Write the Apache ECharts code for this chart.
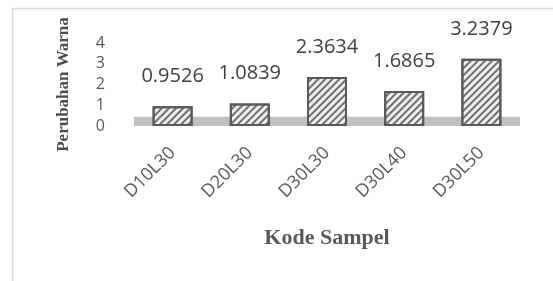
<!DOCTYPE html>
<html>
<head>
<meta charset="utf-8">
<script src="https://cdn.jsdelivr.net/npm/echarts@6/dist/echarts.min.js"></script>
<style>
  html, body { margin: 0; padding: 0; background: #fff; }
</style>
</head>
<body>
<div id="main" style="width:553px;height:281px"></div>
<script>
// sample codes and colour change values
var categories = ["D10L30", "D20L30", "D30L30", "D30L40", "D30L50"];
var perubahanWarna = [0.9526, 1.0839, 2.3634, 1.6865, 3.2379];
var yTicks = [0, 1, 2, 3, 4];

var chartDom = document.getElementById("main");
var myChart = echarts.init(chartDom);
var option;
option = {
  animation: false,
  aria: { enabled: true, decal: { show: true } },
  graphic: [
    {
      type: "rect",
      z: -10,
      shape: { x: 12.5, y: 8.5, width: 700, height: 400 },
      style: { fill: "none", stroke: "#d9d9d9", lineWidth: 1.5 }
    }
  ],
  grid: {
    left: 134,
    right: 33,
    top: 43,
    bottom: 155
  },
  xAxis: {
    type: "category",
    data: categories,
    name: "Kode Sampel",
    nameLocation: "middle",
    nameGap: 101,
    nameTextStyle: {
      fontFamily: "Liberation Serif",
      fontWeight: "bold",
      fontSize: 22,
      color: "#595959"
    },
    axisLine: { show: false },
    axisTick: { show: false },
    axisLabel: {
      rotate: 45,
      margin: 24,
      fontFamily: "Open Sans",
      fontSize: 18,
      color: "#595959"
    }
  },
  yAxis: {
    type: "value",
    min: yTicks[0],
    max: yTicks[yTicks.length - 1],
    interval: 1,
    name: "Perubahan Warna",
    nameLocation: "middle",
    nameGap: 62,
    nameTextStyle: {
      fontFamily: "Liberation Serif",
      fontWeight: "bold",
      fontSize: 17,
      color: "#4d4d4d"
    },
    splitLine: { show: false },
    axisLine: { show: false },
    axisTick: { show: false },
    axisLabel: {
      margin: 29,
      fontFamily: "Open Sans",
      fontSize: 16,
      color: "#595959"
    }
  },
  series: [
    {
      name: "Perubahan Warna",
      type: "bar",
      barWidth: 40,
      data: perubahanWarna,
      itemStyle: {
        color: "#eeeeee",
        borderColor: "#595959",
        borderWidth: 2,
        decal: {
          symbol: "rect",
          symbolSize: 1,
          dashArrayX: [1, 0],
          dashArrayY: [2, 3],
          rotation: -Math.PI / 4,
          color: "rgba(90,90,90,0.85)"
        }
      },
      label: {
        show: true,
        position: "top",
        distance: 20,
        fontFamily: "Open Sans",
        fontSize: 20,
        color: "#404040",
        formatter: function (p) { return p.value.toFixed(4); }
      },
      markArea: {
        silent: true,
        itemStyle: { color: "#c0c0c0", decal: "none" },
        data: [[{ yAxis: 0 }, { yAxis: 0.45 }]]
      }
    }
  ]
};

option && myChart.setOption(option);
</script>
</body>
</html>
